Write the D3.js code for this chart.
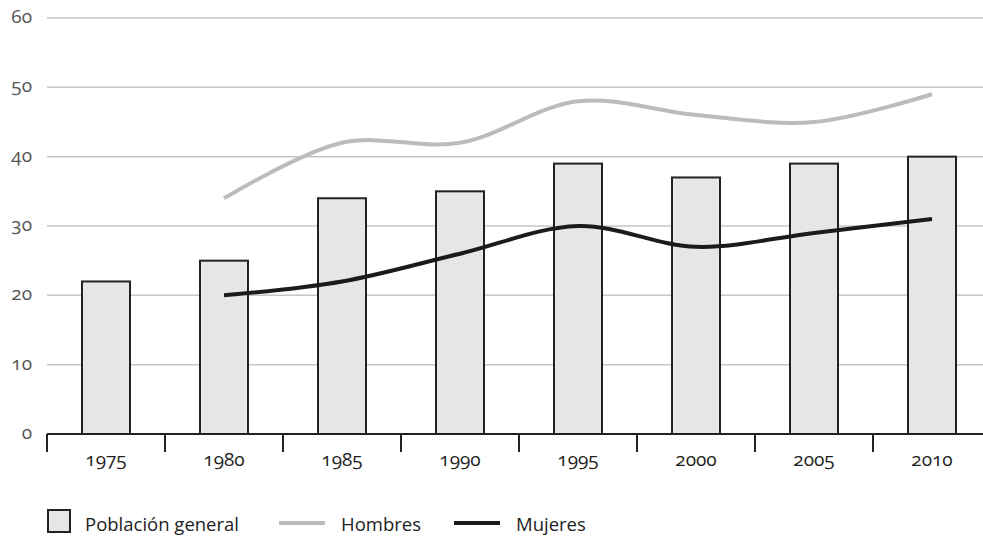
<!DOCTYPE html>
<html>
<head>
<meta charset="utf-8">
<script src="https://cdn.jsdelivr.net/npm/d3@7"></script>
<style>
  body { margin: 0; background: #fff; }
  svg text { font-family: "Open Sans", "Lato", sans-serif; font-variant-numeric: oldstyle-nums; }
</style>
</head>
<body>
<div id="chart"></div>
<script>
// data
const years = ["1975", "1980", "1985", "1990", "1995", "2000", "2005", "2010"];
const poblacion = [22, 25, 34, 35, 39, 37, 39, 40];
const hombresYears = ["1980", "1985", "1990", "1995", "2000", "2005", "2010"];
const hombres = [34, 42, 42, 48, 46, 45, 49];
const mujeresYears = ["1980", "1985", "1990", "1995", "2000", "2005", "2010"];
const mujeres = [20, 22, 26, 30, 27, 29, 31];
const yTicks = [0, 10, 20, 30, 40, 50, 60];

const width = 983, height = 536;
const plot = {left: 47, right: 991, top: 18, bottom: 434};

const svg = d3.select("#chart").append("svg")
    .attr("width", width)
    .attr("height", height);

const x = d3.scaleBand().domain(years).range([plot.left, plot.right]);
const y = d3.scaleLinear().domain([0, 60]).range([plot.bottom, plot.top]);

// gridlines
svg.append("g")
    .selectAll("line")
    .data(yTicks.filter(d => d > 0))
    .enter().append("line")
    .attr("x1", plot.left).attr("x2", width)
    .attr("y1", d => y(d)).attr("y2", d => y(d))
    .style("stroke", "#c6c6c6")
    .style("stroke-width", 1.5);

// y labels
svg.append("g")
    .selectAll("text")
    .data(yTicks)
    .enter().append("text")
    .attr("x", 32)
    .attr("y", d => y(d) + 5)
    .attr("text-anchor", "end")
    .style("font-size", "19px")
    .style("fill", "#555")
    .text(d => d);

// bars
const barW = 48;
svg.append("g")
    .selectAll("rect")
    .data(years)
    .enter().append("rect")
    .attr("x", (d) => x(d) + x.bandwidth() / 2 - barW / 2)
    .attr("y", (d, i) => y(poblacion[i]))
    .attr("width", barW)
    .attr("height", (d, i) => y(0) - y(poblacion[i]))
    .style("fill", "#e5e6e8")
    .style("stroke", "#222")
    .style("stroke-width", 2);

// x axis
const xAxis = svg.append("g")
    .attr("transform", "translate(0," + plot.bottom + ")")
    .call(d3.axisBottom(x).tickSize(0).tickPadding(0).tickFormat(""));
xAxis.select(".domain").remove();
xAxis.append("line")
    .attr("x1", plot.left).attr("x2", width)
    .attr("y1", 0).attr("y2", 0)
    .style("stroke", "#222").style("stroke-width", 2);
xAxis.selectAll(".sep")
    .data(years)
    .enter().append("line")
    .attr("class", "sep")
    .attr("x1", d => x(d)).attr("x2", d => x(d))
    .attr("y1", 0).attr("y2", 18)
    .style("stroke", "#222").style("stroke-width", 2);
xAxis.selectAll(".lbl")
    .data(years)
    .enter().append("text")
    .attr("class", "lbl")
    .attr("x", d => x(d) + x.bandwidth() / 2)
    .attr("y", 32)
    .attr("text-anchor", "middle")
    .style("font-size", "19px")
    .style("fill", "#222")
    .text(d => d);

// lines
const cx = d => x(d) + x.bandwidth() / 2;
const line = d3.line()
    .x(d => cx(d[0]))
    .y(d => y(d[1]))
    .curve(d3.curveCatmullRom.alpha(0.5));

svg.append("path")
    .datum(hombresYears.map((d, i) => [d, hombres[i]]))
    .attr("d", line)
    .style("fill", "none")
    .style("stroke", "#bcbcbe")
    .style("stroke-width", 4);

svg.append("path")
    .datum(mujeresYears.map((d, i) => [d, mujeres[i]]))
    .attr("d", line)
    .style("fill", "none")
    .style("stroke", "#1c1a1b")
    .style("stroke-width", 4);

// legend
const lg = svg.append("g");
lg.append("rect")
    .attr("x", 48).attr("y", 510).attr("width", 22).attr("height", 22)
    .style("fill", "#e5e6e8").style("stroke", "#222").style("stroke-width", 2);
lg.append("text")
    .attr("x", 85).attr("y", 531)
    .style("font-size", "18.5px").style("fill", "#222")
    .text("Población general");
lg.append("line")
    .attr("x1", 279).attr("x2", 325).attr("y1", 523).attr("y2", 523)
    .style("stroke", "#bcbcbe").style("stroke-width", 4);
lg.append("text")
    .attr("x", 341).attr("y", 531)
    .style("font-size", "18.5px").style("fill", "#222")
    .text("Hombres");
lg.append("line")
    .attr("x1", 454).attr("x2", 500).attr("y1", 523).attr("y2", 523)
    .style("stroke", "#1c1a1b").style("stroke-width", 4);
lg.append("text")
    .attr("x", 516).attr("y", 531)
    .style("font-size", "18.5px").style("fill", "#222")
    .text("Mujeres");
</script>
</body>
</html>
